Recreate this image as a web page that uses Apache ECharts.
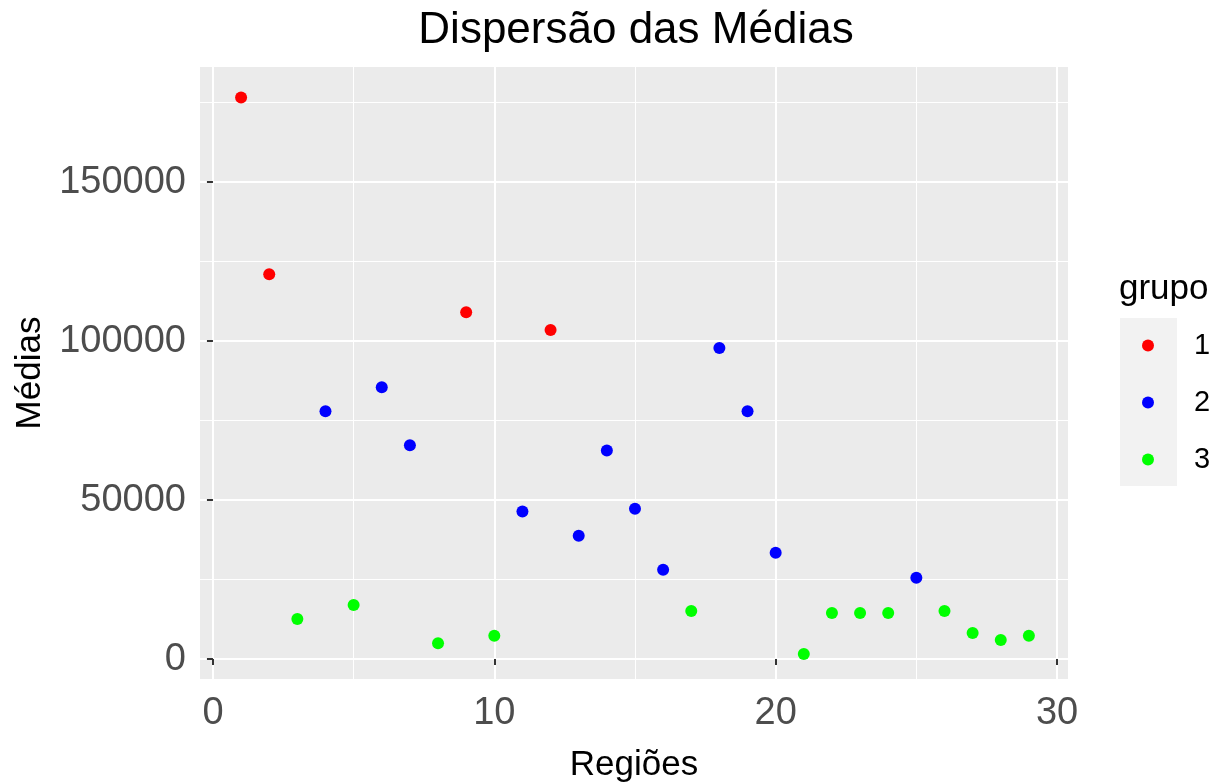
<!DOCTYPE html>
<html>
<head>
    <meta charset="utf-8">
    <title>Dispersão das Médias</title>
    <script src="https://cdn.jsdelivr.net/npm/echarts@6/dist/echarts.min.js"></script>
</head>
<body style="margin:0">
    <div id="main" style="width:1222px;height:782px;"></div>
</body>
<script type="text/javascript">
    // regiões 1..29, médias e grupo de cada uma
    var regioes = [1, 2, 3, 4, 5, 6, 7, 8, 9, 10, 11, 12, 13, 14, 15, 16, 17, 18, 19, 20, 21, 22, 23, 24, 25, 26, 27, 28, 29];
    var medias = [176600, 121000, 12600, 77900, 17000, 85500, 67200, 5000, 109100, 7300,
        46400, 103500, 38800, 65600, 47300, 28100, 15100, 97800, 77900, 33400,
        1600, 14500, 14500, 14500, 25600, 15100, 8200, 6000, 7300];
    var grupo = [1, 1, 3, 2, 3, 2, 2, 3, 1, 3, 2, 1, 2, 2, 2, 2, 3, 2, 2, 2, 3, 3, 3, 3, 2, 3, 3, 3, 3];

    var grupos = ['1', '2', '3'];
    var cores = ['#FF0000', '#0000FF', '#00FF00'];
    var xTicks = [0, 10, 20, 30];
    var xMinor = [5, 15, 25];
    var yTicks = [0, 50000, 100000, 150000];
    var yMinor = [25000, 75000, 125000, 175000];

    var series = grupos.map(function(g, i) {
        var pts = [];
        regioes.forEach(function(r, k) {
            if (String(grupo[k]) === g) pts.push([r, medias[k]]);
        });
        return {
            name: g,
            type: 'scatter',
            symbolSize: 12,
            itemStyle: { color: cores[i], opacity: 1 },
            data: pts
        };
    });

    var fonte = 'Liberation Sans, Arial, sans-serif';
    var xMin = -0.46, xMax = 30.39;
    var yMin = -6280, yMax = 186200;

    var chart = echarts.init(document.getElementById('main'));
    chart.setOption({
        animation: false,
        backgroundColor: '#fff',
        title: {
            text: 'Dispersão das Médias',
            left: 631, top: 4, textAlign: 'center',
            textStyle: { fontFamily: fonte, fontSize: 44, fontWeight: 'normal', color: '#000' }
        },
        grid: {
            left: 200, top: 67, right: 154, bottom: 103,
            outerBoundsMode: 'none', containLabel: false,
            show: true, backgroundColor: '#EBEBEB', borderWidth: 0
        },
        legend: {
            orient: 'vertical',
            left: 1137, top: 326,
            itemWidth: 12, itemHeight: 12,
            itemGap: 28,
            icon: 'circle',
            data: grupos,
            textStyle: { fontFamily: fonte, fontSize: 29, color: '#000', padding: [0, 0, 0, 35] }
        },
        graphic: [
            { type: 'rect', left: 1120, top: 318, shape: { width: 57, height: 168 }, style: { fill: '#F2F2F2' }, z: -1 },
            { type: 'text', left: 1119, top: 272, style: { text: 'grupo', font: '35px ' + fonte, fill: '#000' } }
        ],
        xAxis: [{
            type: 'value', min: xMin, max: xMax,
            name: 'Regiões', nameLocation: 'middle', nameGap: 69,
            nameTextStyle: { fontFamily: fonte, fontSize: 35, color: '#000' },
            axisLine: { show: false },
            axisTick: { show: true, length: 6, lineStyle: { color: '#333', width: 2 }, customValues: xTicks },
            axisLabel: { customValues: xTicks, fontFamily: fonte, fontSize: 38, color: '#4D4D4D', margin: 16 },
            splitLine: { show: true, lineStyle: { color: '#fff', width: 2 } }
        }, {
            type: 'value', min: xMin, max: xMax, position: 'bottom',
            axisLine: { show: false },
            axisTick: { show: false, customValues: xMinor },
            axisLabel: { show: false, customValues: xMinor },
            splitLine: { show: true, lineStyle: { color: '#fff', width: 1 } }
        }],
        yAxis: [{
            type: 'value', min: yMin, max: yMax,
            name: 'Médias', nameLocation: 'middle', nameGap: 150,
            nameTextStyle: { fontFamily: fonte, fontSize: 35, color: '#000' },
            axisLine: { show: false },
            axisTick: { show: true, length: 6, lineStyle: { color: '#333', width: 2 }, customValues: yTicks },
            axisLabel: {
                customValues: yTicks, fontFamily: fonte, fontSize: 38, color: '#4D4D4D', margin: 14,
                formatter: function(v) { return String(v); }
            },
            splitLine: { show: true, lineStyle: { color: '#fff', width: 2 } }
        }, {
            type: 'value', min: yMin, max: yMax, position: 'left',
            axisLine: { show: false },
            axisTick: { show: false, customValues: yMinor },
            axisLabel: { show: false, customValues: yMinor },
            splitLine: { show: true, lineStyle: { color: '#fff', width: 1 } }
        }],
        series: series
    });
</script>
</html>
